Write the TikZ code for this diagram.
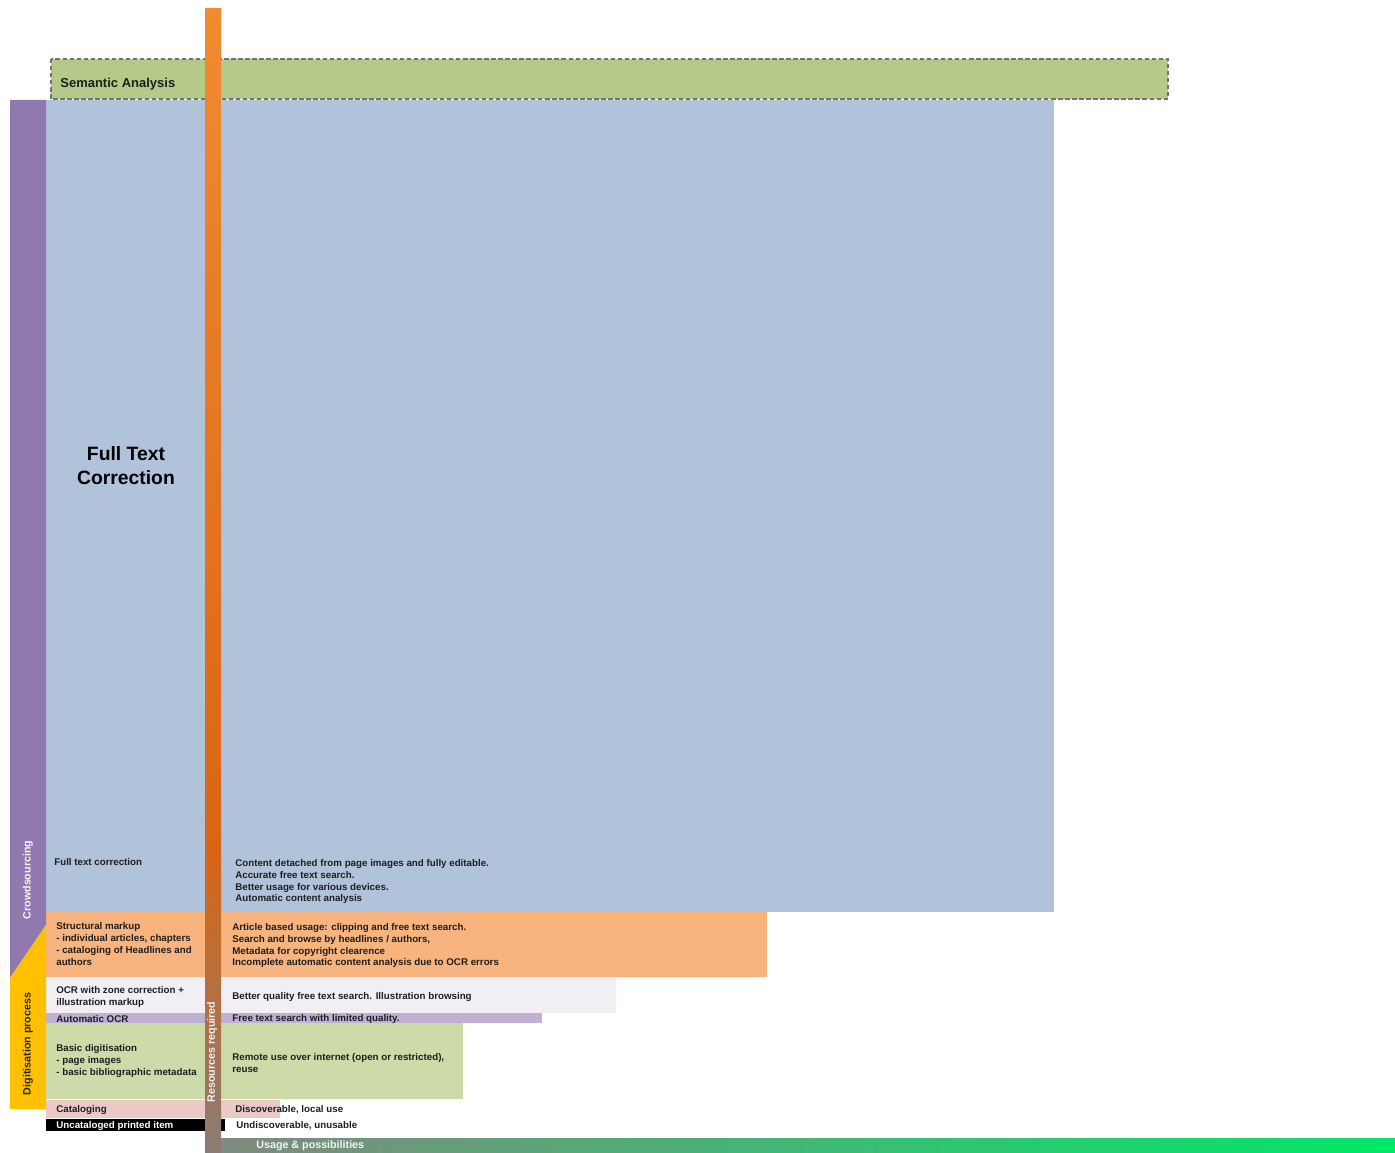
\documentclass[tikz,border=0pt]{standalone}
\usepackage{fontspec}
\setmainfont{Liberation Sans}
\usepackage{tikz}

\definecolor{fullblue}{HTML}{B0C3DA}
\definecolor{crowdpurple}{HTML}{9079AE}
\definecolor{digyellow}{HTML}{FFC000}
\definecolor{semgreen}{HTML}{B5CA88}
\definecolor{structorange}{HTML}{F7B47E}
\definecolor{zonelavender}{HTML}{F1EEF4}
\definecolor{ocrpurple}{HTML}{BFB0D4}
\definecolor{basicgreen}{HTML}{CDDBA8}
\definecolor{catpink}{HTML}{EBC9C6}
\definecolor{barorange}{HTML}{F28A30}
\definecolor{bardark}{HTML}{D96514}
\definecolor{bargray}{HTML}{8A7C74}
\definecolor{usegray}{HTML}{7F8A80}
\definecolor{usemid}{HTML}{18A652}
\definecolor{usegreen}{HTML}{00E868}

\tikzset{
    cell/.style={font=\fontsize{5.55}{6.8}\selectfont\bfseries, align=left,
        inner sep=0pt, anchor=west, text=black!88},
    sidetext/.style={font=\fontsize{6.1}{7}\selectfont\bfseries, rotate=90,
        inner sep=0pt},
}

\begin{document}
\begin{tikzpicture}[x=0.02cm, y=-0.02cm]

        \useasboundingbox (0,0) rectangle (1395,1152);

        \def\lx{56}
        \def\rx{232}

        % semantic analysis
        \draw[fill=semgreen, draw=black!55, line width=0.8pt,
            dash pattern=on 2.5pt off 1.5pt] (51,59) rectangle (1168,99);
        \node[cell, font=\fontsize{7.4}{8}\selectfont\bfseries] (sem) at (60,84) {Semantic Analysis};

        % the steps, widest first
        \fill[fullblue] (46,100) rectangle (1054,912);
        \fill[structorange] (46,912) rectangle (767,977);
        \fill[zonelavender] (46,977) rectangle (616,1013);
        \fill[ocrpurple] (46,1013) rectangle (542,1023);
        \fill[basicgreen] (46,1023) rectangle (463,1099);
        \fill[catpink] (46,1100) rectangle (280,1118);
        \fill[black] (46,1119) rectangle (225,1131);

        % crowdsourcing / digitisation
        \fill[crowdpurple] (10,100) -- (46,100) -- (46,925) -- (10,978) -- cycle;
        \fill[digyellow] (10,978) -- (46,925) -- (46,1109) -- (10,1109) -- cycle;
        \node[sidetext, text=white!92!crowdpurple] (crowd) at (28,880) {Crowdsourcing};
        \node[sidetext, text=black!85] (digit) at (28,1044) {Digitisation process};

        % usage axis
        \shade[left color=usegray, middle color=usemid, right color=usegreen]
            (221,1138) rectangle (1395,1152);
        \node[cell, font=\fontsize{6.1}{7}\selectfont\bfseries, text=white!92!gray]
            (usage) at (256,1146) {Usage \& possibilities};

        % resources axis
        \shade[top color=barorange, bottom color=bardark] (205,9) rectangle (221,850);
        \shade[top color=bardark, bottom color=bargray] (205,850) rectangle (221,1152);
        \node[sidetext, text=white!90!gray] (resources) at (212,1052) {Resources required};

        \node[font=\fontsize{11}{13.6}\selectfont\bfseries, align=center, inner sep=0pt]
            (ftcbig) at (126,466) {Full Text\\Correction};

        % left column
        \node[cell] (ftc) at (54,862) {Full text correction};
        \node[cell] (struct) at (\lx,944) {Structural markup\\- individual articles, chapters\\- cataloging of Headlines and\\authors};
        \node[cell] (zone) at (\lx,996.5) {OCR with zone correction +\\illustration markup};
        \node[cell] (autoocr) at (\lx,1019) {Automatic OCR};
        \node[cell] (basic) at (\lx,1061) {Basic digitisation\\- page images\\- basic bibliographic metadata};
        \node[cell] (catal) at (\lx,1110) {Cataloging};
        \node[cell, text=white] (uncat) at (\lx,1126) {Uncataloged printed item};

        % right column
        \node[cell] (ftcuse) at (235,881.5) {Content detached from page images and fully editable.\\Accurate free text search.\\Better usage for various devices.\\Automatic content analysis};
        \node[cell] (structuse) at (\rx,945.5) {Article based usage: clipping and free text search.\\Search and browse by headlines / authors,\\Metadata for copyright clearence\\Incomplete automatic content analysis due to OCR errors};
        \node[cell] (zoneuse) at (\rx,997) {Better quality free text search. Illustration browsing};
        \node[cell] (autoocruse) at (\rx,1019) {Free text search with limited quality.};
        \node[cell] (basicuse) at (\rx,1063) {Remote use over internet (open or restricted),\\reuse};
        \node[cell] (cataluse) at (235,1109.5) {Discoverable, local use};
        \node[cell] (uncatuse) at (236,1126) {Undiscoverable, unusable};

\end{tikzpicture}
\end{document}
